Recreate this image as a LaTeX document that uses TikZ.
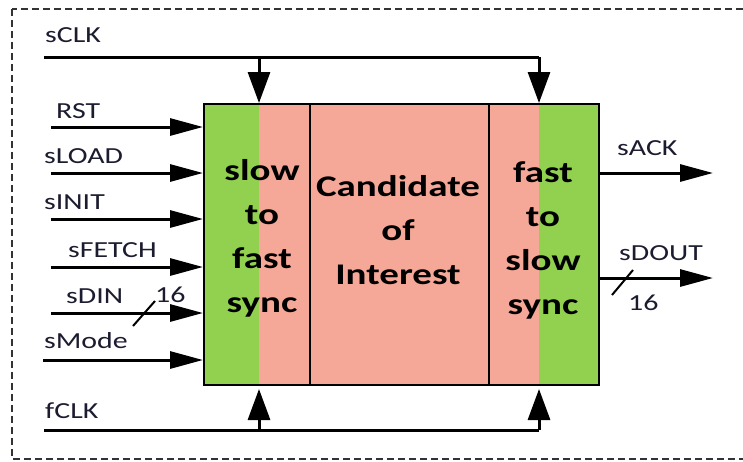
\documentclass[tikz,border=0pt]{standalone}
\usepackage{fontspec}
\setmainfont[FakeStretch=1.3]{Carlito}
\usetikzlibrary{arrows.meta}
\definecolor{syncgreen}{HTML}{92D050}
\definecolor{corepink}{HTML}{F5A898}
\definecolor{labelink}{HTML}{1C1C30}
\tikzset{
  wire/.style={line width=3pt},
  inarrow/.style={wire,-{Triangle[length=33pt,width=17pt]}},
  clkarrow/.style={wire,-{Triangle[length=31pt,width=22pt]}},
  block/.style={draw=black,line width=2.2pt,minimum height=281pt,inner sep=0pt,anchor=north west},
  sig/.style={font=\fontsize{23}{26}\selectfont,text=labelink,anchor=base west,inner sep=0pt},
  blocktext/.style={font=\fontsize{30}{44}\selectfont\bfseries,align=center,inner sep=0pt},
  buswidth/.style={line width=2pt}
}
\begin{document}
\begin{tikzpicture}[x=1pt,y=-1pt]
\useasboundingbox (0,0) rectangle (743,461);
% dashed frame, open to the right
\begin{scope}
\clip (0,0) rectangle (743,461);
\draw[line width=2.2pt,dash pattern=on 7pt off 4pt,black!80] (12,9) rectangle (780,459);
\end{scope}

% blocks
\fill[syncgreen] (203,103) rectangle (259,384);
\fill[corepink] (259,103) rectangle (309,384);
\fill[corepink] (488,103) rectangle (539,384);
\fill[syncgreen] (539,103) rectangle (598,384);
\node[block,minimum width=106pt] (s2f) at (203,103) {};
\node[block,minimum width=179pt,fill=corepink] (core) at (309,103) {};
\node[block,minimum width=110pt] (f2s) at (488,103) {};

\node[blocktext] (s2ftxt) at (262,238) {slow\\to\\fast\\sync};
\node[blocktext] (coretxt) at (398,230) {Candidate\\of\\Interest};
\node[blocktext] (f2stxt) at (543,240) {fast\\to\\slow\\sync};

% slow clock
\coordinate (sclkin) at (44,57);
\coordinate (sclkA) at (259,57);
\coordinate (sclkB) at (539,57);
\draw[wire] (sclkin) -- (sclkB);
\draw[clkarrow] (sclkA) -- (sclkA |- s2f.north);
\draw[clkarrow] (sclkB) -- (sclkB |- f2s.north);
\node[sig] (lsclk) at (45,42) {sCLK};

% fast clock
\coordinate (fclkin) at (44,430);
\coordinate (fclkA) at (259,430);
\coordinate (fclkB) at (539,430);
\coordinate (fclkAt) at (259,389);
\coordinate (fclkBt) at (539,389);
\draw[wire] (fclkin) -- (fclkB);
\draw[clkarrow] (fclkA) -- (fclkAt);
\draw[clkarrow] (fclkB) -- (fclkBt);
\node[sig] (lfclk) at (45,418) {fCLK};

% inputs
\coordinate (rst) at (51,127);
\coordinate (sload) at (51,173);
\coordinate (sinit) at (51,219);
\coordinate (sfetch) at (51,267);
\coordinate (sdin) at (51,313);
\coordinate (smode) at (43,360);
\foreach \c in {rst,sload,sinit,sfetch,sdin,smode}
  \draw[inarrow] (\c) -- (\c -| s2f.west);
\node[sig] (lrst) at (56,118) {RST};
\node[sig] (lsload) at (44,163) {sLOAD};
\node[sig] (lsinit) at (44,209) {sINIT};
\node[sig] (lsfetch) at (68,257) {sFETCH};
\node[sig] (lsdin) at (66,303) {sDIN};
\node[sig] (lsmode) at (44,348) {sMode};
\coordinate (dinA) at (133,326);
\coordinate (dinB) at (155,301);
\draw[buswidth] (dinA) -- (dinB);
\node[sig] (ldinw) at (155,302) {16};

% outputs
\coordinate (sack) at (713,173);
\coordinate (sdout) at (713,278);
\draw[inarrow] (f2s.east |- sack) -- (sack);
\draw[inarrow] (f2s.east |- sdout) -- (sdout);
\node[sig] (lsack) at (617,155) {sACK};
\node[sig] (lsdout) at (619,260) {sDOUT};
\coordinate (doutA) at (612,295);
\coordinate (doutB) at (633,270);
\draw[buswidth] (doutA) -- (doutB);
\node[sig] (ldoutw) at (628,310) {16};
\end{tikzpicture}
\end{document}
